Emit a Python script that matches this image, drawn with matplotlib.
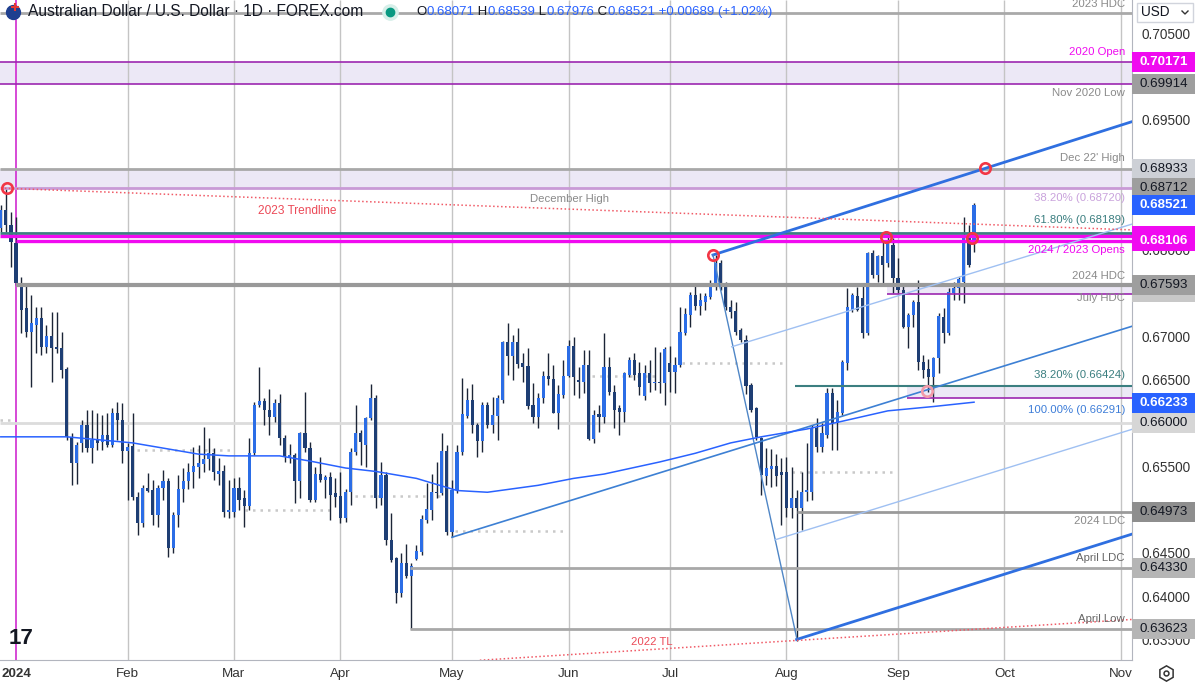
import numpy as np
import pandas as pd
import matplotlib
matplotlib.use("Agg")
import matplotlib.pyplot as plt
import matplotlib.transforms as mtransforms
from matplotlib.patches import Rectangle
from matplotlib.lines import Line2D

plt.rcParams['font.family'] = ['Liberation Sans', 'DejaVu Sans']

# daily AUD/USD bars, first bar = 27 Dec 2023 (no bar on 1 Jan)
opens = [0.6825, 0.6846, 0.6829, 0.6808, 0.6759, 0.6733, 0.6705, 0.6713, 0.6721, 0.6688,
         0.6700, 0.6688, 0.6687, 0.6662, 0.6584, 0.6554, 0.6577, 0.6598, 0.6571, 0.6580,
         0.6578, 0.6586, 0.6575, 0.6612, 0.6603, 0.6568, 0.6573, 0.6515, 0.6485, 0.6525,
         0.6523, 0.6494, 0.6525, 0.6533, 0.6456, 0.6494, 0.6524, 0.6533, 0.6543, 0.6549,
         0.6553, 0.6558, 0.6565, 0.6541, 0.6545, 0.6497, 0.6497, 0.6525, 0.6513, 0.6504,
         0.6565, 0.6621, 0.6625, 0.6615, 0.6607, 0.6623, 0.6583, 0.6561, 0.6563, 0.6533,
         0.6588, 0.6571, 0.6511, 0.6541, 0.6534, 0.6538, 0.6519, 0.6516, 0.6490, 0.6520,
         0.6567, 0.6588, 0.6575, 0.6606, 0.6629, 0.6513, 0.6540, 0.6465, 0.6444, 0.6404,
         0.6438, 0.6423, 0.6443, 0.6451, 0.6488, 0.6500, 0.6520, 0.6519, 0.6568, 0.6474,
         0.6523, 0.6567, 0.6608, 0.6627, 0.6598, 0.6579, 0.6621, 0.6598, 0.6608, 0.6627,
         0.6694, 0.6677, 0.6694, 0.6669, 0.6666, 0.6621, 0.6607, 0.6629, 0.6654, 0.6651,
         0.6612, 0.6632, 0.6654, 0.6689, 0.6650, 0.6647, 0.6667, 0.6582, 0.6610, 0.6607,
         0.6665, 0.6636, 0.6617, 0.6613, 0.6655, 0.6673, 0.6658, 0.6631, 0.6658, 0.6646,
         0.6647, 0.6646, 0.6669, 0.6659, 0.6667, 0.6704, 0.6725, 0.6748, 0.6735, 0.6740,
         0.6745, 0.6757, 0.6785, 0.6758, 0.6734, 0.6729, 0.6707, 0.6696, 0.6644, 0.6617,
         0.6583, 0.6539, 0.6547, 0.6550, 0.6543, 0.6543, 0.6502, 0.6513, 0.6502, 0.6520,
         0.6520, 0.6594, 0.6572, 0.6586, 0.6635, 0.6600, 0.6612, 0.6669, 0.6730, 0.6747,
         0.6744, 0.6704, 0.6796, 0.6771, 0.6793, 0.6785, 0.6806, 0.6767, 0.6754, 0.6711,
         0.6725, 0.6740, 0.6670, 0.6662, 0.6653, 0.6675, 0.6722, 0.6704, 0.6750, 0.6756,
         0.6763, 0.6815, 0.68071]
highs = [0.6852, 0.6871, 0.6844, 0.6838, 0.6769, 0.6762, 0.6748, 0.6734, 0.6734, 0.6713,
         0.6728, 0.6728, 0.6705, 0.6665, 0.6588, 0.6578, 0.6603, 0.6615, 0.6615, 0.6612,
         0.6609, 0.6612, 0.6617, 0.6624, 0.6623, 0.6577, 0.6612, 0.6520, 0.6528, 0.6542,
         0.6534, 0.6528, 0.6546, 0.6537, 0.6497, 0.6540, 0.6548, 0.6554, 0.6572, 0.6575,
         0.6595, 0.6583, 0.6571, 0.6560, 0.6551, 0.6534, 0.6537, 0.6538, 0.6523, 0.6583,
         0.6624, 0.6665, 0.6629, 0.6639, 0.6628, 0.6633, 0.6586, 0.6576, 0.6565, 0.6590,
         0.6636, 0.6578, 0.6549, 0.6561, 0.6540, 0.6543, 0.6537, 0.6543, 0.6524, 0.6571,
         0.6621, 0.6592, 0.6607, 0.6645, 0.6632, 0.6555, 0.6543, 0.6496, 0.6445, 0.6450,
         0.6460, 0.6438, 0.6459, 0.6494, 0.6531, 0.6541, 0.6555, 0.6588, 0.6575, 0.6534,
         0.6575, 0.6652, 0.6640, 0.6645, 0.6600, 0.6624, 0.6624, 0.6630, 0.6632, 0.6695,
         0.6715, 0.6702, 0.6710, 0.6681, 0.6687, 0.6646, 0.6635, 0.6660, 0.6681, 0.6667,
         0.6644, 0.6673, 0.6696, 0.6699, 0.6665, 0.6684, 0.6684, 0.6615, 0.6621, 0.6704,
         0.6676, 0.6644, 0.6621, 0.6659, 0.6676, 0.6681, 0.6670, 0.6667, 0.6673, 0.6688,
         0.6682, 0.6688, 0.6689, 0.6676, 0.6734, 0.6733, 0.6751, 0.6762, 0.6750, 0.6750,
         0.6765, 0.6794, 0.6788, 0.6763, 0.6742, 0.6740, 0.6710, 0.6702, 0.6646, 0.6618,
         0.6584, 0.6571, 0.6570, 0.6564, 0.6560, 0.6561, 0.6549, 0.6523, 0.6543, 0.6577,
         0.6598, 0.6606, 0.6600, 0.6640, 0.6640, 0.6627, 0.6673, 0.6756, 0.6750, 0.6757,
         0.6762, 0.6797, 0.6800, 0.6794, 0.6811, 0.6819, 0.6814, 0.6790, 0.6759, 0.6727,
         0.6742, 0.6765, 0.6679, 0.6674, 0.6676, 0.6727, 0.6733, 0.6756, 0.6763, 0.6769,
         0.6838, 0.6829, 0.68539]
lows = [0.6820, 0.6820, 0.6780, 0.6759, 0.6704, 0.6699, 0.6642, 0.6681, 0.6678, 0.6681,
        0.6647, 0.6681, 0.6652, 0.6580, 0.6528, 0.6530, 0.6567, 0.6567, 0.6554, 0.6569,
        0.6569, 0.6572, 0.6572, 0.6580, 0.6554, 0.6511, 0.6511, 0.6471, 0.6480, 0.6520,
        0.6482, 0.6480, 0.6511, 0.6445, 0.6450, 0.6480, 0.6509, 0.6524, 0.6525, 0.6537,
        0.6543, 0.6546, 0.6534, 0.6528, 0.6491, 0.6490, 0.6491, 0.6500, 0.6480, 0.6500,
        0.6563, 0.6618, 0.6598, 0.6586, 0.6601, 0.6575, 0.6555, 0.6554, 0.6508, 0.6513,
        0.6567, 0.6509, 0.6509, 0.6532, 0.6513, 0.6488, 0.6503, 0.6485, 0.6486, 0.6505,
        0.6563, 0.6552, 0.6549, 0.6603, 0.6502, 0.6505, 0.6459, 0.6440, 0.6392, 0.6399,
        0.6421, 0.6362, 0.6442, 0.6448, 0.6485, 0.6488, 0.6513, 0.6517, 0.6471, 0.6468,
        0.6519, 0.6563, 0.6606, 0.6588, 0.6561, 0.6567, 0.6594, 0.6588, 0.6580, 0.6623,
        0.6655, 0.6650, 0.6664, 0.6647, 0.6616, 0.6600, 0.6594, 0.6623, 0.6644, 0.6611,
        0.6593, 0.6629, 0.6653, 0.6632, 0.6629, 0.6635, 0.6580, 0.6577, 0.6590, 0.6600,
        0.6632, 0.6594, 0.6586, 0.6601, 0.6653, 0.6650, 0.6632, 0.6627, 0.6636, 0.6638,
        0.6635, 0.6621, 0.6636, 0.6635, 0.6665, 0.6702, 0.6711, 0.6730, 0.6725, 0.6730,
        0.6743, 0.6754, 0.6754, 0.6730, 0.6721, 0.6702, 0.6694, 0.6633, 0.6613, 0.6580,
        0.6517, 0.6528, 0.6526, 0.6527, 0.6482, 0.6491, 0.6490, 0.6348, 0.6476, 0.6510,
        0.6511, 0.6567, 0.6567, 0.6583, 0.6569, 0.6569, 0.6609, 0.6661, 0.6728, 0.6729,
        0.6698, 0.6702, 0.6767, 0.6763, 0.6762, 0.6780, 0.6750, 0.6750, 0.6710, 0.6687,
        0.6711, 0.6661, 0.6652, 0.6636, 0.6624, 0.6658, 0.6692, 0.6702, 0.6742, 0.6742,
        0.6739, 0.6780, 0.67976]
closes = [0.6846, 0.6829, 0.6809, 0.6762, 0.6730, 0.6705, 0.6715, 0.6721, 0.6688, 0.6700,
          0.6687, 0.6685, 0.6661, 0.6584, 0.6554, 0.6575, 0.6598, 0.6571, 0.6580, 0.6577,
          0.6586, 0.6575, 0.6612, 0.6603, 0.6568, 0.6572, 0.6515, 0.6485, 0.6525, 0.6521,
          0.6494, 0.6525, 0.6533, 0.6456, 0.6494, 0.6524, 0.6533, 0.6543, 0.6550, 0.6554,
          0.6558, 0.6565, 0.6543, 0.6545, 0.6497, 0.6500, 0.6525, 0.6511, 0.6504, 0.6565,
          0.6621, 0.6625, 0.6615, 0.6607, 0.6623, 0.6583, 0.6561, 0.6563, 0.6533, 0.6588,
          0.6571, 0.6511, 0.6541, 0.6534, 0.6538, 0.6517, 0.6515, 0.6490, 0.6520, 0.6567,
          0.6588, 0.6578, 0.6606, 0.6629, 0.6513, 0.6540, 0.6465, 0.6442, 0.6404, 0.6438,
          0.6423, 0.6435, 0.6452, 0.6489, 0.6501, 0.6520, 0.6519, 0.6568, 0.6474, 0.6523,
          0.6567, 0.6610, 0.6627, 0.6598, 0.6579, 0.6621, 0.6598, 0.6609, 0.6629, 0.6694,
          0.6677, 0.6694, 0.6668, 0.6665, 0.6620, 0.6607, 0.6629, 0.6654, 0.6651, 0.6612,
          0.6634, 0.6654, 0.6689, 0.6653, 0.6647, 0.6667, 0.6582, 0.6609, 0.6607, 0.6665,
          0.6636, 0.6615, 0.6613, 0.6658, 0.6673, 0.6655, 0.6642, 0.6658, 0.6646, 0.6647,
          0.6646, 0.6685, 0.6659, 0.6667, 0.6705, 0.6726, 0.6748, 0.6735, 0.6742, 0.6747,
          0.6757, 0.6785, 0.6762, 0.6734, 0.6728, 0.6705, 0.6696, 0.6643, 0.6615, 0.6584,
          0.6540, 0.6548, 0.6550, 0.6539, 0.6540, 0.6502, 0.6513, 0.6502, 0.6520, 0.6523,
          0.6594, 0.6572, 0.6588, 0.6635, 0.6600, 0.6613, 0.6670, 0.6734, 0.6748, 0.6730,
          0.6704, 0.6796, 0.6771, 0.6793, 0.6782, 0.6811, 0.6767, 0.6754, 0.6711, 0.6725,
          0.6740, 0.6670, 0.6661, 0.6653, 0.6675, 0.6724, 0.6704, 0.6751, 0.6756, 0.6766,
          0.6815, 0.6782, 0.68521]

# 200-day moving average, sampled off the chart (bar index, price)
sma_bar = [0, 13, 26, 39, 45, 55, 61, 68, 74, 82, 90, 96, 106, 113, 119, 130, 137, 144,
           150, 159, 166, 175, 184, 192]
sma_val = [0.6584, 0.6584, 0.6577, 0.6564, 0.6562, 0.6562, 0.6556, 0.6548, 0.6544, 0.6536,
           0.6522, 0.6520, 0.6528, 0.6536, 0.6541, 0.6555, 0.6565, 0.6577, 0.6584, 0.6593,
           0.6602, 0.6614, 0.6619, 0.6624]

# key levels
hdc_2023 = 0.7073
open_2020 = 0.70171
low_nov20 = 0.69914
high_dec22 = 0.68933
high_dec = 0.68712
fib_618 = 0.68189
open_2023 = 0.6816
open_2024 = 0.68106
hdc_2024 = 0.67593
hdc_july = 0.6749
fib_382 = 0.66424
fib_100 = 0.66291
fig_66 = 0.66000
ldc_2024 = 0.64973
ldc_april = 0.64330
low_april = 0.63623
last_px = 0.68521
sma_last = 0.66233

# drawn trendlines: (bar0, price0, bar1, price1)
chan_top = (140.5, 0.6794, 194.2, 0.6894)
chan_bot = (157.0, 0.6350, 222.8, 0.6471)
drop_leg = (140.5, 0.6794, 157.0, 0.6352)
may_line = (89.0, 0.6468, 222.8, 0.6711)
par_up = (144.2, 0.6688, 222.8, 0.6829)
par_dn = (152.7, 0.6465, 222.8, 0.6592)
tl_2023 = (0.8, 0.6871, 222.8, 0.6823)
tl_2022 = (94.5, 0.6326, 222.8, 0.6373)

# dotted pivot marks: (bar0, bar1, price)
pivots = [(-0.2, 2.8, 0.6604), (26.9, 45.2, 0.6569), (48.2, 65.9, 0.6500),
          (69.9, 87.0, 0.6516), (89.6, 111.3, 0.6475), (116.6, 129.6, 0.6654),
          (134.4, 154.3, 0.6669), (156.1, 176.0, 0.6543)]

rings = [(1.2, 0.6871), (140.5, 0.6794), (174.6, 0.6815), (194.2, 0.6894), (191.6, 0.6814)]
ring_soft = [(182.7, 0.6637)]

# axis ticks that stay readable next to the price badges
yticks = [0.635, 0.640, 0.645, 0.655, 0.665, 0.670, 0.680, 0.695, 0.705]

# ---------------------------------------------------------------
W, H = 1195, 685
XL, XR = -0.16, 223.16
YB, YT = 0.63263, 0.70884
UP, DN, WICK = '#2b6de6', '#1e3e74', '#1b2436'
GRAY_T = '#8a8a8a'
MAG = '#f00af0'
PURP = '#9c27b0'
LAV = '#ece8f6'


def fx(px):
    return px / W


def fy(py):
    return 1 - py / H


fig = plt.figure(figsize=(W / 100, H / 100), dpi=100)
ax = fig.add_axes([0, 25 / H, 1132 / W, 660 / H])
ax.set_xlim(XL, XR)
ax.set_ylim(YB, YT)
btr = mtransforms.blended_transform_factory(ax.transAxes, ax.transData)

# month grid / ticks
cal = pd.bdate_range('2023-12-27', '2024-11-29')
cal = cal[cal != pd.Timestamp('2024-01-01')]
first = ~pd.Series(cal.to_period('M')).duplicated().values
mpos = np.where(first)[0][1:]
mlab = ['2024' if d.month == 1 else d.strftime('%b') for d in cal[mpos]]
ax.vlines(mpos[1:], YB, YT, color='#c4c4c4', lw=1, zorder=0.5)
ax.vlines(mpos[0], YB, YT, color='#d02ad0', lw=1.2, zorder=0.6)

# zones
ax.fill_between([XL, XR], low_nov20, open_2020, color=LAV, zorder=0.3, lw=0)
ax.fill_between([XL, XR], high_dec, high_dec22, color=LAV, zorder=0.3, lw=0)
ax.fill_between([174.8, XR], hdc_july, hdc_2024, color=LAV, zorder=0.3, lw=0)
ax.fill_between([178.8, XR], fib_100, fib_382, color=LAV, zorder=0.3, lw=0)

# candles
idx = np.arange(len(closes))
o, h, l, c = (np.array(v) for v in (opens, highs, lows, closes))
ax.vlines(idx, l, h, color=WICK, lw=1, zorder=3)
body = np.maximum(np.abs(c - o), 0.00006)
ax.bar(idx, body, bottom=np.minimum(o, c), width=0.62,
       color=np.where(c >= o, UP, DN), lw=0, zorder=3.2)

# horizontal levels
ax.hlines(hdc_2023, XL, XR, color='#a9a9a9', lw=2, zorder=4)
ax.hlines([open_2020, low_nov20], XL, XR, color=PURP, lw=1.2, zorder=4)
ax.hlines(high_dec22, XL, XR, color='#a8a8a8', lw=2, zorder=4)
ax.hlines(high_dec, XL, XR, color='#c99ad6', lw=2, zorder=4)
ax.hlines(fib_618, XL, XR, color='#3b7f80', lw=2, zorder=4)
ax.hlines(open_2023, XL, XR, color=MAG, lw=2.4, zorder=4)
ax.hlines(open_2024, 3, XR, color=MAG, lw=2.4, zorder=4)
ax.hlines(hdc_2024, 3, XR, color='#999999', lw=3, zorder=4)
ax.hlines(hdc_july, 174.8, XR, color=PURP, lw=1.2, zorder=4)
ax.hlines(fib_382, 156.7, XR, color='#3b7f80', lw=1.5, zorder=4)
ax.hlines(fib_100, 178.8, XR, color=PURP, lw=1.2, zorder=4)
ax.hlines(fig_66, XL, XR, color='#dcdcdc', lw=2, zorder=0.8)
ax.hlines(ldc_2024, 157, XR, color='#9a9a9a', lw=2, zorder=4)
ax.hlines([ldc_april, low_april], 80.7, XR, color='#a8a8a8', lw=2, zorder=4)

for b0, b1, p in pivots:
    ax.hlines(p, b0, b1, color='#c9c9c9', lw=1.8, linestyles=(0, (1, 2)), zorder=2)


def to_edge(seg):
    b0, p0, b1, p1 = seg
    k = (p1 - p0) / (b1 - b0)
    return [b0, XR], [p0, p0 + k * (XR - b0)]


ax.plot(*to_edge(chan_top), color='#2f6fe0', lw=2, zorder=5)
ax.plot(*to_edge(chan_bot), color='#2f6fe0', lw=2, zorder=5)
ax.plot(drop_leg[::2], drop_leg[1::2], color='#4f86c6', lw=1, zorder=5)
ax.plot(*to_edge(may_line), color='#3d80d4', lw=1.2, zorder=5)
ax.plot(*to_edge(par_up), color='#9fc0f2', lw=1, zorder=5)
ax.plot(*to_edge(par_dn), color='#9fc0f2', lw=1, zorder=5)
ax.plot(*to_edge(tl_2023), color='#f05a66', lw=1.1, ls=(0, (1, 1.6)), zorder=5)
ax.plot(*to_edge(tl_2022), color='#f05a66', lw=1.1, ls=(0, (1, 1.6)), zorder=5)
ax.plot(sma_bar, sma_val, color='#2962ff', lw=1.1, zorder=5)

rx, ry = zip(*rings)
ax.plot(rx, ry, 'o', ms=7.5, mfc='none', mec='#f23645', mew=1.9, zorder=7)
sx, sy = zip(*ring_soft)
ax.plot(sx, sy, 'o', ms=7.5, mfc='none', mec='#f29aa8', mew=1.9, zorder=7)

# level labels (price, text, colour, pixel offset)
labels = [
    (hdc_2023, '2023 HDC', GRAY_T, 9), (open_2020, '2020 Open', MAG, 10),
    (low_nov20, 'Nov 2020 Low', GRAY_T, -9), (high_dec22, "Dec 22' High", GRAY_T, 11),
    (high_dec, '38.20% (0.68720)', '#c9a2dc', -10), (fib_618, '61.80% (0.68189)', '#3b7f80', 13),
    (open_2024, '2024 / 2023 Opens', MAG, -9), (hdc_2024, '2024 HDC', GRAY_T, 9),
    (hdc_july, 'July HDC', GRAY_T, -4), (fib_382, '38.20% (0.66424)', '#3b7f80', 11),
    (fib_100, '100.00% (0.66291)', '#3d7dd8', -12), (ldc_2024, '2024 LDC', GRAY_T, -9),
    (ldc_april, 'April LDC', '#666666', 10), (low_april, 'April Low', '#666666', 10),
]
for p, t, col, off in labels:
    ax.annotate(t, xy=(1125 / 1132, p), xycoords=btr, xytext=(0, off),
                textcoords='offset pixels', ha='right', va='center',
                fontsize=8.2, color=col, zorder=8)
ax.text(112.1, 0.68586, 'December High', ha='center', va='center', fontsize=8.2,
        color=GRAY_T, zorder=8)
ax.text(58.4, 0.68448, '2023 Trendline', ha='center', va='center', fontsize=8.6,
        color='#ec4a58', zorder=8)
ax.text(128.5, 0.63471, '2022 TL', ha='center', va='center', fontsize=8.2,
        color='#ec4a58', zorder=8)

# axes styling
for s in ('top', 'left'):
    ax.spines[s].set_visible(False)
for s in ('right', 'bottom'):
    ax.spines[s].set_color('#b2b5be')
ax.yaxis.tick_right()
ax.set_yticks(yticks)
ax.set_yticklabels([f'{v:.5f}' for v in yticks])
ax.tick_params(axis='y', length=0, pad=7, labelsize=9.8, labelcolor='#333333')
ax.set_xticks(mpos)
ax.set_xticklabels(mlab)
ax.tick_params(axis='x', length=0, pad=6, labelsize=9.6, labelcolor='#333333')
ax.get_xticklabels()[0].set_fontweight('bold')

# price badges on the axis (None = badge mostly hidden, no text)
bh = 20 * (YT - YB) / 660
bw = (W - 1132) / 1132
badges = [(0.6751, '#c8c8c8', None), (open_2020, MAG, 'white'),
          (low_nov20, '#9e9e9e', '#131722'), (high_dec22, '#cdd0d6', '#131722'),
          (high_dec, '#9e9e9e', '#131722'), (last_px, '#2962ff', 'white'),
          (open_2023, MAG, None), (open_2024, MAG, 'white'),
          (hdc_2024, '#9e9e9e', '#131722'), (sma_last, '#2962ff', 'white'),
          (fig_66, '#d6d6d6', '#131722'), (ldc_2024, '#8e8e8e', '#131722'),
          (ldc_april, '#b5b5b5', '#131722'), (low_april, '#b5b5b5', '#131722')]
for n, (p, fc, tc) in enumerate(badges):
    ax.add_patch(Rectangle((1.0, p - bh / 2), bw, bh, transform=btr, fc=fc, lw=0,
                           clip_on=False, zorder=10 + n * 0.01))
    if tc is None:
        continue
    ax.text(1 + 8 / 1132, p, f'{p:.5f}', transform=btr, ha='left', va='center',
            fontsize=9.6, color=tc, clip_on=False, zorder=10.5 + n * 0.01,
            fontweight='bold' if tc == 'white' else 'normal')

# header
fig.add_artist(Line2D([fx(13)], [fy(12)], marker='o', ms=10, color='#1f3f8f',
                      transform=fig.transFigure))
fig.add_artist(Line2D([fx(15)], [fy(7)], marker='+', ms=6, mew=1.5, color='#e53935',
                      transform=fig.transFigure))
fig.text(fx(28), fy(12), 'Australian Dollar / U.S. Dollar \u00b7 1D \u00b7 FOREX.com',
         fontsize=11.2, color='#131722', va='center')
fig.add_artist(Line2D([fx(390)], [fy(12)], marker='o', ms=11, color='#d6efe9',
                      transform=fig.transFigure))
fig.add_artist(Line2D([fx(390)], [fy(12)], marker='o', ms=6, color='#089981',
                      transform=fig.transFigure))
ohlc = [('O', '#131722'), ('0.68071', '#2962ff'), (' H', '#131722'), ('0.68539', '#2962ff'),
        (' L', '#131722'), ('0.67976', '#2962ff'), (' C', '#131722'), ('0.68521', '#2962ff'),
        (' +0.00689 (+1.02%)', '#2962ff')]
prev = fig.text(fx(416), fy(12), ohlc[0][0], fontsize=9.5, color=ohlc[0][1], va='center')
for s, col in ohlc[1:]:
    prev = ax.annotate(s, xy=(1, 0), xycoords=prev, xytext=(0, 0),
                       textcoords='offset pixels', ha='left', va='bottom',
                       fontsize=9.5, color=col, zorder=12)

# USD box, logo, settings icon
fig.add_artist(Rectangle((fx(1137), fy(22)), 56 / W, 19 / H, transform=fig.transFigure,
                         fc='white', ec='#d1d4dc', lw=1))
fig.text(fx(1141), fy(12.5), 'USD', fontsize=9.8, color='#131722', va='center')
fig.add_artist(Line2D([fx(1182), fx(1185), fx(1188)], [fy(11), fy(14), fy(11)],
                      color='#333333', lw=1, transform=fig.transFigure))
fig.text(fx(9), fy(638), '17', fontsize=16, fontweight='bold', color='#131722',
         va='center')
fig.add_artist(Line2D([fx(1166)], [fy(673)], marker='h', ms=11, mfc='none',
                      mec='#333333', mew=1.1, transform=fig.transFigure))
fig.add_artist(Line2D([fx(1166)], [fy(673)], marker='o', ms=3.5, mfc='none',
                      mec='#333333', mew=1.1, transform=fig.transFigure))

fig.savefig('out.png', dpi=100)
